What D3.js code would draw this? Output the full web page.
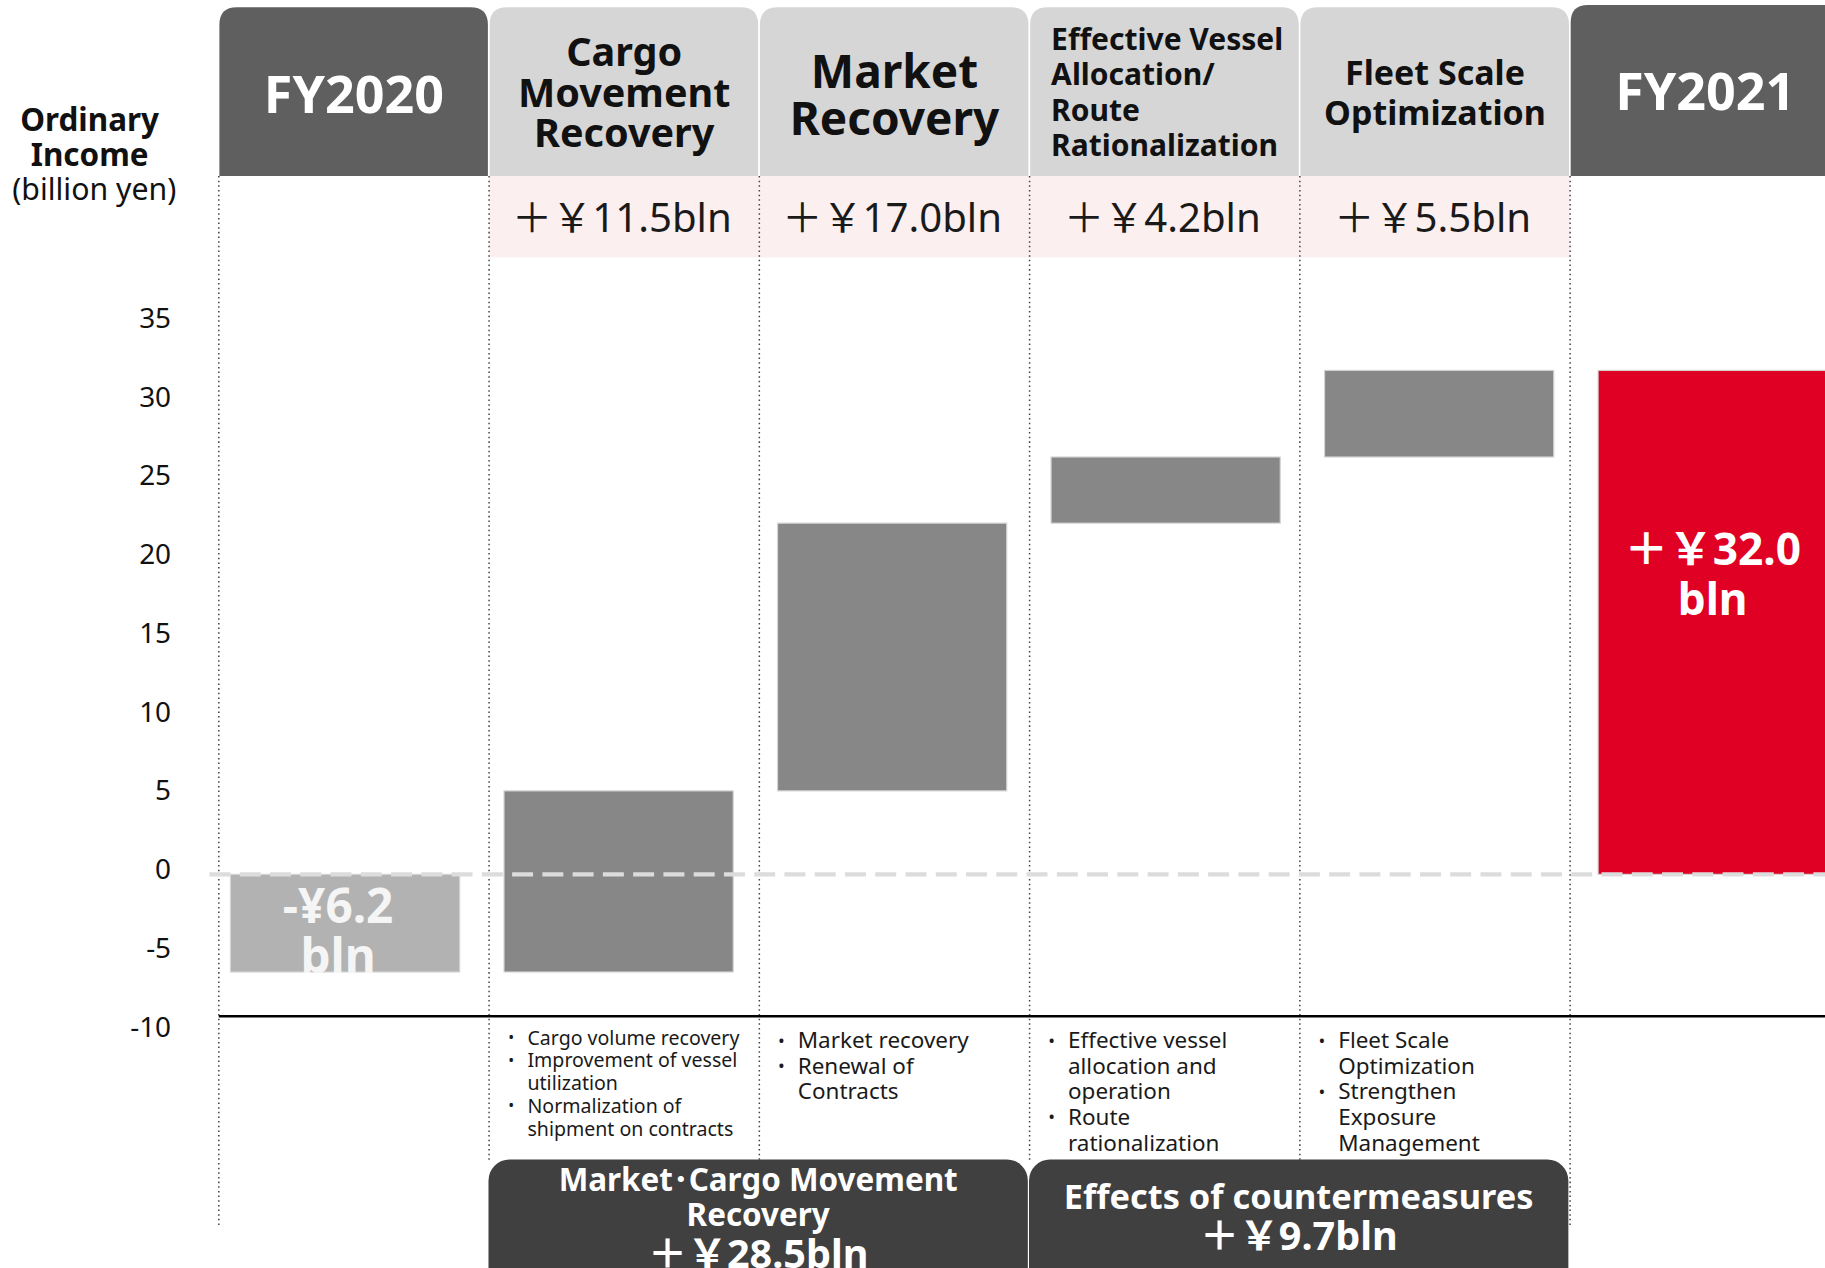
<!DOCTYPE html>
<html>
<head>
<meta charset="utf-8">
<script src="https://cdn.jsdelivr.net/npm/d3@7"></script>
<style>
  body{margin:0;background:#fff;overflow:hidden;}
  svg{display:block;font-family:"Noto Sans","Noto Sans CJK JP",sans-serif;}
</style>
</head>
<body>
<script>
// ---- data ----
let categories = ["FY2020","Cargo Movement Recovery","Market Recovery",
  "Effective Vessel Allocation/ Route Rationalization","Fleet Scale Optimization","FY2021"];
let headerLines = [["FY2020"],["Cargo","Movement","Recovery"],["Market","Recovery"],
  ["Effective Vessel","Allocation/","Route","Rationalization"],["Fleet Scale","Optimization"],["FY2021"]];
let kinds = ["start","delta","delta","delta","delta","total"];
let values = [-6.2, 11.5, 17.0, 4.2, 5.5, 32.0];
let yTicks = [-10,-5,0,5,10,15,20,25,30,35];
let axisTitle = ["Ordinary","Income","(billion yen)"];
let bullets = [
  [],
  [["Cargo volume recovery"],["Improvement of vessel","utilization"],["Normalization of","shipment on contracts"]],
  [["Market recovery"],["Renewal of","Contracts"]],
  [["Effective vessel","allocation and","operation"],["Route","rationalization"]],
  [["Fleet Scale","Optimization"],["Strengthen","Exposure","Management"]],
  []
];
let groupNames = [["Market･Cargo Movement","Recovery"],["Effects of countermeasures"]];
let groupSpans = [[1,2],[3,4]];

// ---- styles ----
let headStyle = [
  {size:44.7, lh:0,    cy:79, dark:true},
  {size:34,   lh:34.5, cy:78.5},
  {size:39.5, lh:40,   cy:80},
  {size:25.8, lh:30.3, cy:78.5, anchor:'start', dx:18.5},
  {size:29.2, lh:34,   cy:79},
  {size:44.7, lh:0,    cy:77, dark:true}
];
let bulletStyle = [null,{size:16.8,lh:19.5,y:891},{size:19.3,lh:22,y:893},{size:19.3,lh:22,y:893},{size:19.3,lh:22,y:893},null];
let groupNameSize = [27,29.5];

function yen(v){ return "＋￥" + v.toFixed(1) + "bln"; }

function roundTop(x,y,w,h,r){
  return `M${x},${y+h}V${y+r}Q${x},${y} ${x+r},${y}H${x+w-r}Q${x+w},${y} ${x+w},${y+r}V${y+h}Z`;
}

// waterfall positions
let cum = 0;
let bars = values.map((v,i)=>{
  let b;
  if(kinds[i]=="start"){ b={y0:0,y1:v}; cum=v; }
  else if(kinds[i]=="delta"){ b={y0:cum,y1:cum+v}; cum+=v; }
  else { b={y0:0,y1:v}; }
  b.kind = kinds[i]; b.cat = categories[i]; b.i = i; b.v = v;
  return b;
});

let svg = d3.select('body').append('svg')
  .attr('width',1825).attr('height',1268)
  .attr('viewBox','0 0 1568 1089');

let y = d3.scaleLinear().domain([0,32]).range([751,318]);
let xBar = d3.scaleBand().domain(categories).range([179,1589]).paddingInner(0.162).paddingOuter(0.081);
let xCol = d3.scaleBand().domain(categories).range([188,1581.2]);
let bw = xCol.bandwidth();

// header boxes
let head = svg.append('g');
categories.forEach((c,i)=>{
  let st = headStyle[i];
  let top = i==5 ? 4 : 6;
  head.append('path')
    .attr('d', roundTop(xCol(c)+0.5, top, bw-1.5, 151-top, 15))
    .attr('fill', st.dark ? '#5f5f5f' : '#d6d6d6');
  let lines = headerLines[i];
  let first = st.cy - (lines.length-1)*st.lh/2;
  let tx = st.anchor=='start' ? xCol(c)+st.dx : xCol(c)+bw/2;
  let t = head.append('text')
    .attr('font-size', st.size).attr('font-weight','bold')
    .attr('fill', st.dark ? '#fff' : '#111')
    .attr('text-anchor', st.anchor || 'middle');
  lines.forEach((l,k)=>{
    t.append('tspan').attr('x',tx).attr('y',first+k*st.lh)
      .attr('dominant-baseline','central').text(l);
  });
});

// pink delta row
let row = svg.append('g');
bars.filter(b=>b.kind=="delta").forEach(b=>{
  row.append('rect').attr('x',xCol(b.cat)).attr('y',151).attr('width',bw).attr('height',70)
    .attr('fill','#fcefef');
  row.append('text').attr('x',xCol(b.cat)+bw/2-2).attr('y',186)
    .attr('dominant-baseline','central').attr('text-anchor','middle')
    .attr('font-size',34.5).attr('fill','#1a1a1a').text(yen(b.v));
});

// dotted column separators
categories.forEach((c,i)=>{
  svg.append('line').attr('x1',xCol(c)).attr('x2',xCol(c))
    .attr('y1',151).attr('y2', (i==0||i==5) ? 1055 : 998)
    .attr('stroke','#444').attr('stroke-width',1.3).attr('stroke-dasharray','1.3,2.7');
});

// bars
svg.append('g').selectAll('rect').data(bars).enter().append('rect')
  .attr('x', d=>xBar(d.cat))
  .attr('width', xBar.bandwidth())
  .attr('y', d=>y(Math.max(d.y0,d.y1)))
  .attr('height', d=>Math.abs(y(d.y0)-y(d.y1)))
  .attr('fill', d=> d.kind=="start" ? '#b2b2b2' : d.kind=="total" ? '#e00024' : '#878787')
  .attr('stroke','#d4d4d4').attr('stroke-width',1);

// zero line
svg.append('line').attr('x1',180).attr('x2',1568).attr('y1',y(0)).attr('y2',y(0))
  .attr('stroke','#dcdcdc').attr('stroke-width',3.5).attr('stroke-dasharray','18,8');

// bottom rule
svg.append('line').attr('x1',188).attr('x2',1568).attr('y1',873).attr('y2',873)
  .attr('stroke','#000').attr('stroke-width',2.2);

// bar value labels
let fy20 = bars[0], fy21 = bars[5];
let l20 = svg.append('text').attr('font-weight','bold').attr('font-size',41)
  .attr('fill','#f5f5f5').attr('text-anchor','middle');
[("-¥" + Math.abs(fy20.v).toFixed(1)),"bln"].forEach((s,k)=>{
  l20.append('tspan').attr('x',xBar(fy20.cat)+xBar.bandwidth()/2-6)
    .attr('y',y(0)+26+k*43).attr('dominant-baseline','central').text(s);
});
let mid21 = (y(fy21.y0)+y(fy21.y1))/2;
let l21 = svg.append('text').attr('font-weight','bold').attr('font-size',38)
  .attr('fill','#fff').attr('text-anchor','middle');
[("＋￥" + fy21.v.toFixed(1)),"bln"].forEach((s,k)=>{
  l21.append('tspan').attr('x',xBar(fy21.cat)+xBar.bandwidth()/2)
    .attr('y',mid21-64+k*43).attr('dominant-baseline','central').text(s);
});

// bullet notes
bullets.forEach((items,i)=>{
  if(!items.length) return;
  let st = bulletStyle[i];
  let tx = xCol(categories[i]) + 33;
  let line = 0;
  let g = svg.append('g').attr('font-size',st.size).attr('fill','#1a1a1a');
  items.forEach(item=>{
    g.append('text').attr('x',tx-14).attr('y',st.y+line*st.lh)
      .attr('text-anchor','middle').attr('dominant-baseline','central')
      .attr('font-size',st.size*0.8).text('•');
    item.forEach(l=>{
      g.append('text').attr('x',tx).attr('y',st.y+line*st.lh)
        .attr('dominant-baseline','central').text(l);
      line++;
    });
  });
});

// bottom group boxes
groupSpans.forEach((sp,gi)=>{
  let x0 = xCol(categories[sp[0]]) - 0.5;
  let x1 = xCol(categories[sp[1]]) + bw - 1.5;
  svg.append('rect').attr('x',x0).attr('y',996).attr('width',x1-x0).attr('height',130)
    .attr('rx',18).attr('fill','#404040');
  let total = 0;
  for(let k=sp[0];k<=sp[1];k++) total += values[k];
  let names = groupNames[gi];
  let top = 1044 - ((names.length-1)*30 + 34)/2;
  let cx = (x0+x1)/2;
  names.forEach((n,k)=>{
    svg.append('text').attr('x',cx).attr('y',top+k*30)
      .attr('text-anchor','middle').attr('dominant-baseline','central')
      .attr('font-weight','bold').attr('font-size',groupNameSize[gi]).attr('fill','#fff').text(n);
  });
  svg.append('text').attr('x',cx).attr('y',top+(names.length-1)*30+34)
    .attr('text-anchor','middle').attr('dominant-baseline','central')
    .attr('font-weight','bold').attr('font-size',34).attr('fill','#fff').text(yen(total));
});

// y axis (plain hyphen for negatives, as in the slide)
let ax = svg.append('g').attr('transform','translate(147,0)')
  .call(d3.axisLeft(y).tickValues(yTicks).tickSize(0).tickPadding(0).tickFormat(d=>String(d)));
ax.select('.domain').remove();
ax.selectAll('text').attr('font-size',24).attr('fill','#111')
  .attr('font-family','"Noto Sans",sans-serif').attr('dy','0.15em');

// axis title
let at = svg.append('text').attr('text-anchor','middle').attr('fill','#111');
axisTitle.forEach((s,k)=>{
  at.append('tspan').attr('x', k==2 ? 81 : 77).attr('y',102+k*30)
    .attr('dominant-baseline','central')
    .attr('font-size', k==2 ? 26 : 27)
    .attr('font-weight', k==2 ? 'normal' : 'bold').text(s);
});
</script>
</body>
</html>
